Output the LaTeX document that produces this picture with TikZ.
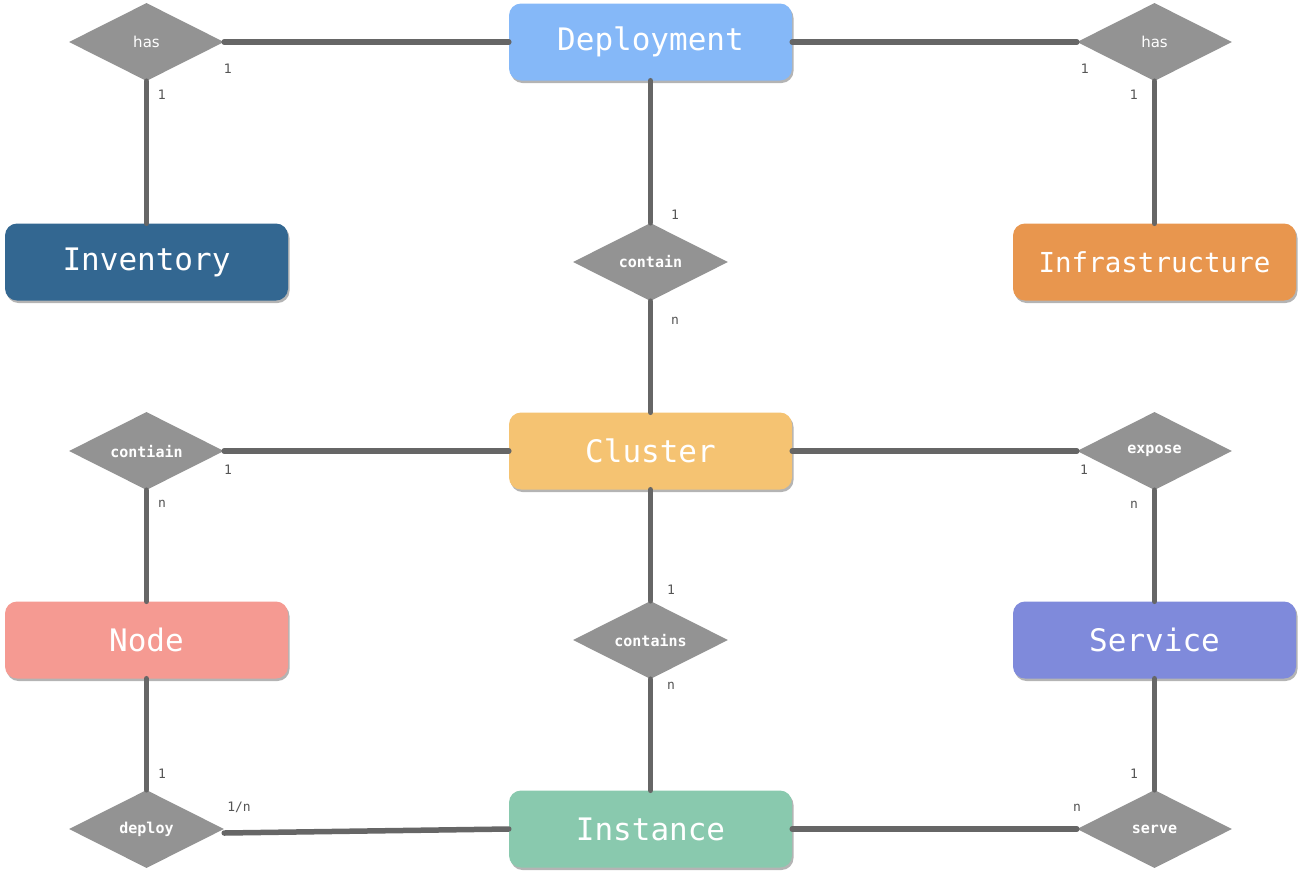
\documentclass[tikz,border=0pt]{standalone}
\usepackage{fontspec}
\setmainfont{DejaVu Sans}
\newfontfamily\monof{DejaVu Sans Mono}
\usetikzlibrary{shapes.geometric,shadows}
\definecolor{cdep}{HTML}{85B8F8}
\definecolor{cinv}{HTML}{336791}
\definecolor{cinf}{HTML}{E8964E}
\definecolor{cclu}{HTML}{F5C372}
\definecolor{cnod}{HTML}{F59A92}
\definecolor{csrv}{HTML}{7F8ADB}
\definecolor{cins}{HTML}{89C9AE}
\definecolor{cdia}{HTML}{939393}
\definecolor{cline}{HTML}{666666}
\definecolor{clab}{HTML}{555555}
\tikzset{
  entity/.style={rectangle, rounded corners=12pt, minimum width=283pt, minimum height=77pt,
    text=white, font=\monof\fontsize{31}{34}\selectfont, inner sep=0pt,
    drop shadow={shadow xshift=1.5pt, shadow yshift=-2.5pt, opacity=0.45, fill=black!65}},
  rel/.style={diamond, fill=cdia, minimum width=155pt, minimum height=78pt, inner sep=0pt,
    aspect=2, text=white, font=\monof\bfseries\fontsize{15}{17}\selectfont},
  relsans/.style={rel, font=\fontsize{15}{17}\selectfont},
  conn/.style={line width=5.5pt, draw=cline, line cap=round},
  card/.style={text=clab, font=\monof\fontsize{13}{15}\selectfont, inner sep=0pt},
  cardsans/.style={text=clab, font=\fontsize{13}{15}\selectfont, inner sep=0pt},
}
\begin{document}
\begin{tikzpicture}[x=1pt,y=-1pt]
\useasboundingbox (0,0) rectangle (1301,876);
% entities
\node[entity, fill=cdep] (dep) at (650.5,42) {Deployment};
\node[entity, fill=cinv] (inv) at (146.5,262) {Inventory};
\node[entity, fill=cinf, font=\monof\fontsize{27.5}{30}\selectfont] (inf) at (1154.5,262) {Infrastructure};
\node[entity, fill=cclu] (clu) at (650.5,451) {Cluster};
\node[entity, fill=cnod] (nod) at (146.5,640) {Node};
\node[entity, fill=csrv] (srv) at (1154.5,640) {Service};
\node[entity, fill=cins] (ins) at (650.5,829) {Instance};
% relationships
\node[relsans] (hasL) at (146.5,42) {has};
\node[relsans] (hasR) at (1154.5,42) {has};
\node[rel] (cont) at (650.5,262) {contain};
\node[rel] (contl) at (146.5,451) {contiain};
\node[rel] (expo) at (1154.5,451) {expose};
\node[rel] (conts) at (650.5,640) {contains};
\node[rel] (depl) at (146.5,829) {deploy};
\node[rel] (serv) at (1154.5,829) {serve};
% connectors
\draw[conn] (hasL.east) -- (dep.west);
\draw[conn] (hasL.south) -- (inv.north);
\draw[conn] (dep.east) -- (hasR.west);
\draw[conn] (hasR.south) -- (inf.north);
\draw[conn] (dep.south) -- (cont.north);
\draw[conn] (cont.south) -- (clu.north);
\draw[conn] (contl.east) -- (clu.west);
\draw[conn] (contl.south) -- (nod.north);
\draw[conn] (clu.east) -- (expo.west);
\draw[conn] (expo.south) -- (srv.north);
\draw[conn] (clu.south) -- (conts.north);
\draw[conn] (conts.south) -- (ins.north);
\draw[conn] (nod.south) -- (depl.north);
\draw[conn] ([yshift=-4pt]depl.east) -- (ins.west);
\draw[conn] (ins.east) -- (serv.west);
\draw[conn] (srv.south) -- (serv.north);
% cardinalities
\node[cardsans] (c1) at (228,69) {1};
\node[cardsans] (c2) at (162,95) {1};
\node[cardsans] (c3) at (1085,69) {1};
\node[cardsans] (c4) at (1134,95) {1};
\node[card] (c5) at (675,215) {1};
\node[card] (c6) at (675,321) {n};
\node[card] (c7) at (228,470) {1};
\node[card] (c8) at (162,504) {n};
\node[card] (c9) at (1084,470) {1};
\node[card] (c10) at (1134,505) {n};
\node[card] (c11) at (671,590) {1};
\node[card] (c12) at (671,686) {n};
\node[card] (c13) at (162,774) {1};
\node[card] (c14) at (239,807) {1/n};
\node[card] (c15) at (1134,774) {1};
\node[card] (c16) at (1077,808) {n};
\end{tikzpicture}
\end{document}
